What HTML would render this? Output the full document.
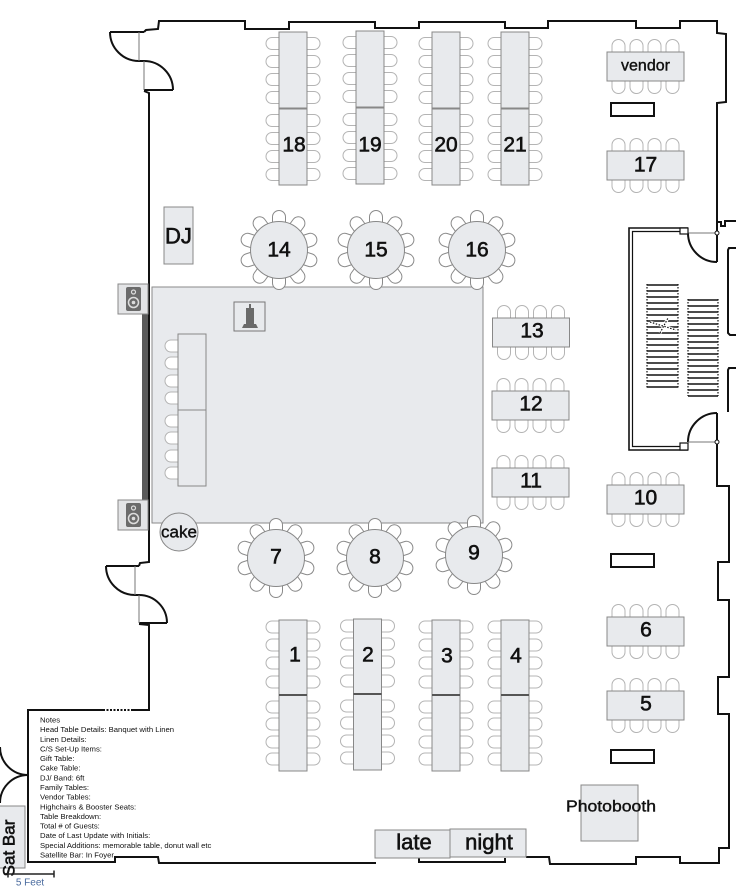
<!DOCTYPE html>
<html><head><meta charset="utf-8"><style>
html,body{margin:0;padding:0;background:#fff;}
svg{display:block;}
text{font-family:"Liberation Sans",sans-serif;fill:#111;}
.lb{stroke:#111;stroke-width:0.6;}
</style></head><body>
<svg width="736" height="894" viewBox="0 0 736 894" xmlns="http://www.w3.org/2000/svg">
<defs>
<path id="cl" d="M2,-6 L-7,-6 A6,6 0 0 0 -7,6 L2,6 Z" fill="#fff" stroke="#b4b4b4" stroke-width="1"/>
<path id="cr" d="M-2,-6 L7,-6 A6,6 0 0 1 7,6 L-2,6 Z" fill="#fff" stroke="#b4b4b4" stroke-width="1"/>
<path id="ct" d="M-6.5,2 L-6.5,-6 A6.5,6.5 0 0 1 6.5,-6 L6.5,2 Z" fill="#fff" stroke="#b4b4b4" stroke-width="1"/>
<path id="cb" d="M-6.5,-2 L-6.5,6 A6.5,6.5 0 0 0 6.5,6 L6.5,-2 Z" fill="#fff" stroke="#b4b4b4" stroke-width="1"/>
<path id="rc" d="M-6.5,-25 L-6.5,-33 A6.5,6.5 0 0 1 6.5,-33 L6.5,-25 Z" fill="#fff" stroke="#8a8a8a" stroke-width="1"/>
<g id="rt">
<use href="#rc" transform="rotate(0)"/><use href="#rc" transform="rotate(36)"/><use href="#rc" transform="rotate(72)"/><use href="#rc" transform="rotate(108)"/><use href="#rc" transform="rotate(144)"/><use href="#rc" transform="rotate(180)"/><use href="#rc" transform="rotate(216)"/><use href="#rc" transform="rotate(252)"/><use href="#rc" transform="rotate(288)"/><use href="#rc" transform="rotate(324)"/>
<circle r="28.5" fill="#e8eaed" stroke="#888" stroke-width="1"/>
</g>
<g id="vbt">
<use href="#cl" x="0" y="11.5"/><use href="#cl" x="0" y="29.5"/><use href="#cl" x="0" y="47.5"/><use href="#cl" x="0" y="65.5"/>
<use href="#cl" x="0" y="88.5"/><use href="#cl" x="0" y="106.5"/><use href="#cl" x="0" y="124.5"/><use href="#cl" x="0" y="142.5"/>
<use href="#cr" x="28" y="11.5"/><use href="#cr" x="28" y="29.5"/><use href="#cr" x="28" y="47.5"/><use href="#cr" x="28" y="65.5"/>
<use href="#cr" x="28" y="88.5"/><use href="#cr" x="28" y="106.5"/><use href="#cr" x="28" y="124.5"/><use href="#cr" x="28" y="142.5"/>
<rect x="0" y="0" width="28" height="76" fill="#e8eaed" stroke="#888"/>
<rect x="0" y="77" width="28" height="76" fill="#e8eaed" stroke="#888"/>
</g>
<g id="vbb">
<use href="#cl" x="0" y="7"/><use href="#cl" x="0" y="25"/><use href="#cl" x="0" y="43"/><use href="#cl" x="0" y="62"/>
<use href="#cl" x="0" y="87"/><use href="#cl" x="0" y="104"/><use href="#cl" x="0" y="122"/><use href="#cl" x="0" y="139"/>
<use href="#cr" x="28" y="7"/><use href="#cr" x="28" y="25"/><use href="#cr" x="28" y="43"/><use href="#cr" x="28" y="62"/>
<use href="#cr" x="28" y="87"/><use href="#cr" x="28" y="104"/><use href="#cr" x="28" y="122"/><use href="#cr" x="28" y="139"/>
<rect x="0" y="0" width="28" height="75" fill="#e8eaed" stroke="#888"/>
<rect x="0" y="75" width="28" height="76" fill="#e8eaed" stroke="#888"/>
<line x1="0" y1="75" x2="28" y2="75" stroke="#555" stroke-width="2"/>
</g>
<g id="ht">
<use href="#ct" x="11.5" y="0"/><use href="#ct" x="29.5" y="0"/><use href="#ct" x="47.5" y="0"/><use href="#ct" x="65.5" y="0"/>
<use href="#cb" x="11.5" y="29"/><use href="#cb" x="29.5" y="29"/><use href="#cb" x="47.5" y="29"/><use href="#cb" x="65.5" y="29"/>
<rect x="0" y="0" width="77" height="29" fill="#e8eaed" stroke="#888"/>
</g>
<g id="spk">
<rect x="0" y="0" width="30" height="30" fill="#e3e4e6" stroke="#888"/>
<rect x="8" y="3" width="15" height="24" rx="2" fill="#6b6b6b"/>
<circle cx="15.5" cy="8" r="2" fill="none" stroke="#ddd" stroke-width="1.2"/>
<circle cx="15.5" cy="18.5" r="5" fill="none" stroke="#ddd" stroke-width="1.5"/>
<circle cx="15.5" cy="18.5" r="1.8" fill="#ddd"/>
</g>
</defs>

<!-- Walls -->
<g fill="none" stroke="#111" stroke-width="2" stroke-linejoin="miter">
<path d="M144,32 L146,30 L158,29 L159,21 L245,21 L245,29 L289,29 L289,22 L375,22 L375,28 L419,28 L419,22 L505,22 L505,28 L548,28 L548,21 L636,21 L636,28 L680,28 L680,21 L717,21 L717,33 L726,34 L726,102 L717,103 L717,233"/>
<path d="M717,222 L721,222 L721,226 L725,226 L725,221 L736,221"/>
<path d="M110,32 L144,32"/>
<path d="M110,32 A29,29 0 0 0 139,61"/>
<path d="M139,61 L144,61"/>
<path d="M144,61 A29,29 0 0 1 173,90"/>
<path d="M173,90 L144,90"/>
<path d="M144,91 L149,93 L149,562 L140,563 L139,566"/>
<path d="M106,566 L139,566"/>
<path d="M106,566 A29,29 0 0 0 135,595"/>
<path d="M135,595 L139,595"/>
<path d="M139,595 A28,28 0 0 1 167,623"/>
<path d="M167,623 L139,623"/>
<path d="M139,624 L149,625 L149,710 L133,710"/>
<path d="M103,710 L28,710 L28,862 L115,862 L115,857 L158,857 L159,863 L376,863"/>
<path d="M419,858 L419,862 L505,862 L505,858"/>
<path d="M526,857 L549,857 L550,864 L636,864 L636,857 L680,857 L680,863 L719,863 L719,848 L729,848 L729,714 L718,714 L718,677 L729,677 L729,600 L718,600 L718,562 L729,562 L729,486 L717,486 L717,413"/>
<path d="M0,747 A28,28 0 0 0 28,775"/>
<path d="M28,775 A28,28 0 0 0 0,803"/>
<path d="M736,248 L729,248 L728,250 L728,333 L730,335 L736,335"/>
<path d="M736,368 L729,368 L728,370 L728,412"/>
<path d="M688,233 A29,29 0 0 0 717,262"/>
<path d="M717,233 L717,262"/>
<path d="M717,413 A29,29 0 0 0 688,442"/>
</g>
<path d="M133,710 L103,710" stroke="#111" stroke-width="2" stroke-dasharray="2,1.5" fill="none"/>
<g stroke="#777" stroke-width="1" fill="none">
<path d="M139,32 L139,61"/>
<path d="M144,61 L144,90"/>
<path d="M135,566 L135,595"/>
<path d="M139,595 L139,623"/>
<path d="M688,233 L717,233"/>
<path d="M688,442 L717,442"/>
</g>

<!-- Stair room -->
<g fill="none" stroke="#111">
<path d="M688,228 L629,228 L629,450 L688,450" stroke-width="1.6"/>
<path d="M680,231.5 L632.5,231.5 L632.5,446.5 L680,446.5" stroke-width="1.2"/>
<rect x="680" y="228" width="8" height="6" stroke-width="1.2" fill="#fff"/>
<rect x="680" y="443" width="8" height="7" stroke-width="1.2" fill="#fff"/>
<circle cx="717" cy="233" r="2" stroke-width="1" fill="#fff"/>
<circle cx="717" cy="442" r="2" stroke-width="1" fill="#fff"/>
</g>
<g stroke="#111" fill="none">
<path d="M647,284 L647,388 M678,284 L678,388 M688,299 L688,396 M718,299 L718,396" stroke-width="1.2" stroke-dasharray="1.5,1.5"/>
<path stroke-width="1.5" d="M647,285H678M647,291H678M647,297H678M647,303H678M647,309H678M647,315H678M647,321H678M647,327H678M647,333H678M647,339H678M647,345H678M647,351H678M647,357H678M647,363H678M647,369H678M647,375H678M647,381H678M647,387H678"/>
<path stroke="#fff" stroke-width="3" d="M650,322L676,330M660,333L668,318"/>
<path stroke-width="1.2" stroke-dasharray="1.5,1.5" d="M650,322L676,330M660,333L668,318"/>
<path stroke-width="1.5" d="M688,300H718M688,306H718M688,312H718M688,318H718M688,324H718M688,330H718M688,336H718M688,342H718M688,348H718M688,354H718M688,360H718M688,366H718M688,372H718M688,378H718M688,384H718M688,390H718M688,396H718"/>
</g>

<!-- Dance floor -->
<rect x="152" y="287" width="331" height="236" fill="#e8eaed" stroke="#8a8a8a" stroke-width="1"/>
<use href="#cl" x="178" y="346"/><use href="#cl" x="178" y="363"/><use href="#cl" x="178" y="381"/><use href="#cl" x="178" y="398"/>
<use href="#cl" x="178" y="421"/><use href="#cl" x="178" y="438"/><use href="#cl" x="178" y="456"/><use href="#cl" x="178" y="473"/>
<rect x="178" y="334" width="28" height="76" fill="#e8eaed" stroke="#888"/>
<rect x="178" y="410" width="28" height="76" fill="#e8eaed" stroke="#888"/>
<rect x="234" y="302" width="31" height="29" fill="#e8eaed" stroke="#777"/>
<rect x="246" y="308" width="8" height="16" fill="#6a6a6a"/>
<rect x="249" y="304" width="2" height="5" fill="#6a6a6a"/>
<polygon points="244,324 256,324 258,328 242,328" fill="#6a6a6a"/>

<rect x="142" y="314" width="6" height="186" fill="#5a5a5a"/>
<use href="#spk" x="118" y="284"/>
<use href="#spk" x="118" y="500"/>

<rect x="164" y="207" width="29" height="57" fill="#e8eaed" stroke="#888"/>
<text class="lb" x="178.5" y="236" font-size="22" text-anchor="middle" dominant-baseline="central">DJ</text>

<circle cx="179" cy="532" r="19" fill="#e8eaed" stroke="#888"/>
<text class="lb" x="179" y="532" font-size="17" text-anchor="middle" dominant-baseline="central" style="stroke-width:0.4">cake</text>

<use href="#vbt" x="279" y="32"/>
<use href="#vbt" x="356" y="31"/>
<use href="#vbt" x="432" y="32"/>
<use href="#vbt" x="501" y="32"/>
<g class="lb" font-size="21" text-anchor="middle" dominant-baseline="central">
<text x="294" y="145">18</text>
<text x="370" y="145">19</text>
<text x="446" y="145">20</text>
<text x="515" y="145">21</text>
</g>

<use href="#vbb" x="279" y="620"/>
<use href="#vbb" x="353.5" y="619"/>
<use href="#vbb" x="432" y="620"/>
<use href="#vbb" x="501" y="620"/>
<g class="lb" font-size="21" text-anchor="middle" dominant-baseline="central">
<text x="295" y="655">1</text>
<text x="368" y="655">2</text>
<text x="447" y="656">3</text>
<text x="516" y="656">4</text>
</g>

<use href="#rt" x="279" y="250"/>
<use href="#rt" x="376" y="250"/>
<use href="#rt" x="477" y="250"/>
<use href="#rt" x="276" y="558"/>
<use href="#rt" x="375" y="558"/>
<use href="#rt" x="474" y="555"/>
<g class="lb" font-size="21" text-anchor="middle" dominant-baseline="central">
<text x="279" y="250">14</text>
<text x="376" y="250">15</text>
<text x="477" y="250">16</text>
<text x="276" y="557">7</text>
<text x="375" y="557">8</text>
<text x="474" y="553">9</text>
</g>

<use href="#ht" x="607" y="52"/>
<use href="#ht" x="607" y="151"/>
<use href="#ht" x="607" y="485"/>
<use href="#ht" x="607" y="617"/>
<use href="#ht" x="607" y="691"/>
<use href="#ht" x="492.5" y="318"/>
<use href="#ht" x="492" y="391"/>
<use href="#ht" x="492" y="468"/>
<g class="lb" font-size="21" text-anchor="middle" dominant-baseline="central">
<text x="645.5" y="165">17</text>
<text x="645.5" y="498">10</text>
<text x="646" y="630">6</text>
<text x="646" y="704">5</text>
<text x="532" y="331">13</text>
<text x="531" y="404">12</text>
<text x="531" y="481">11</text>
</g>
<text class="lb" x="645.5" y="66" font-size="16" text-anchor="middle" dominant-baseline="central" style="stroke-width:0.4">vendor</text>

<g fill="#fff" stroke="#111" stroke-width="2">
<rect x="611" y="103" width="43" height="13"/>
<rect x="611" y="554" width="43" height="13"/>
<rect x="611" y="750" width="43" height="13"/>
</g>

<rect x="581" y="785" width="57" height="56" fill="#e8eaed" stroke="#888"/>
<text class="lb" x="611" y="807" font-size="16" text-anchor="middle" dominant-baseline="central" textLength="90" lengthAdjust="spacingAndGlyphs" style="stroke-width:0.4">Photobooth</text>

<rect x="375" y="830" width="75" height="28" fill="#e8eaed" stroke="#888"/>
<rect x="450" y="829" width="76" height="28" fill="#e8eaed" stroke="#888"/>
<text class="lb" x="414" y="842" font-size="22" text-anchor="middle" dominant-baseline="central">late</text>
<text class="lb" x="489" y="842" font-size="22" text-anchor="middle" dominant-baseline="central">night</text>

<rect x="-1" y="806" width="26" height="62" fill="#e8eaed" stroke="#888"/>
<text class="lb" transform="translate(9,848) rotate(-90)" font-size="17" text-anchor="middle" dominant-baseline="central">Sat Bar</text>

<g font-size="7.7" fill="#222">
<text x="40" y="722.5">Notes</text>
<text x="40" y="732.1">Head Table Details: Banquet with Linen</text>
<text x="40" y="741.8">Linen Details:</text>
<text x="40" y="751.4">C/S Set-Up Items:</text>
<text x="40" y="761.1">Gift Table:</text>
<text x="40" y="770.7">Cake Table:</text>
<text x="40" y="780.3">DJ/ Band: 6ft</text>
<text x="40" y="790.0">Family Tables:</text>
<text x="40" y="799.6">Vendor Tables:</text>
<text x="40" y="809.3">Highchairs &amp; Booster Seats:</text>
<text x="40" y="818.9">Table Breakdown:</text>
<text x="40" y="828.5">Total # of Guests:</text>
<text x="40" y="838.2">Date of Last Update with Initials:</text>
<text x="40" y="847.8">Special Additions: memorable table, donut wall etc</text>
<text x="40" y="857.5">Satellite Bar: In Foyer</text>
</g>

<g stroke="#222" stroke-width="1.5" fill="none">
<path d="M8,874 L54,874 M8,870.5 L8,877.5 M54,870.5 L54,877.5"/>
</g>
<text x="30" y="883" font-size="10" text-anchor="middle" dominant-baseline="central" style="fill:#4a6b9e">5 Feet</text>
</svg>
</body></html>
